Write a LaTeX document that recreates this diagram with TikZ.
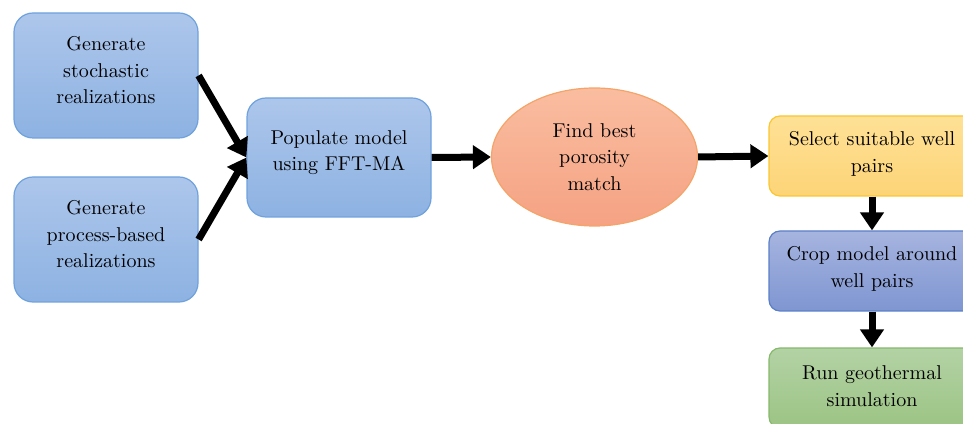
\documentclass[tikz,border=0pt]{standalone}
\usepackage{fontspec}
% text-size cut of Latin Modern: sturdier strokes at large sizes
\newfontfamily\boxfont{lmroman10-regular.otf}
\usetikzlibrary{arrows.meta,shapes.geometric}

% fill and border colours of the process boxes
\definecolor{blueTop}{HTML}{ADC6EB}
\definecolor{blueBot}{HTML}{8DB2E2}
\definecolor{blueLine}{HTML}{6FA2DD}
\definecolor{orangeTop}{HTML}{FABDA0}
\definecolor{orangeBot}{HTML}{F5A283}
\definecolor{orangeLine}{HTML}{F4A468}
\definecolor{yellowTop}{HTML}{FEE196}
\definecolor{yellowBot}{HTML}{FDD477}
\definecolor{yellowLine}{HTML}{FAC631}
\definecolor{slateTop}{HTML}{A6B4DF}
\definecolor{slateBot}{HTML}{7F96D2}
\definecolor{slateLine}{HTML}{5B7FC7}
\definecolor{greenTop}{HTML}{B3D2A5}
\definecolor{greenBot}{HTML}{9CC484}
\definecolor{greenLine}{HTML}{86B96B}

\tikzset{
  box/.style={rectangle, line width=1.2pt, inner sep=0pt},
  bigbox/.style={box, rounded corners=19pt, minimum width=184pt,
    top color=blueTop, bottom color=blueBot, draw=blueLine},
  sidebox/.style={box, rounded corners=11pt, minimum width=206pt, minimum height=80pt},
  boxtext/.style={align=center, font=\boxfont\fontsize{20pt}{26.5pt}\selectfont, inner sep=0pt},
  flow/.style={line width=7pt, -{Triangle[width=23pt,length=18pt]}},
}

\begin{document}
\begin{tikzpicture}[x=1pt,y=1pt]
\useasboundingbox (0,0) rectangle (963,423);
\clip (0,0) rectangle (963,423);

% left column: the two sources of realizations
\node[bigbox, minimum height=125pt] (stoch) at (106,347.5) {};
\node[bigbox, minimum height=125pt] (proc) at (106,183.5) {};
\node[bigbox, minimum height=119pt] (pop) at (339,265.5) {};

% matching step
\node[ellipse, line width=1.2pt, minimum width=206pt, minimum height=138pt,
  top color=orangeTop, bottom color=orangeBot, draw=orangeLine] (match) at (594.5,266) {};

% right column
\node[sidebox, top color=yellowTop, bottom color=yellowBot, draw=yellowLine] (select) at (872,267) {};
\node[sidebox, top color=slateTop, bottom color=slateBot, draw=slateLine] (crop) at (872,152) {};
\node[sidebox, top color=greenTop, bottom color=greenBot, draw=greenLine] (run) at (872,35) {};

% texts
\node[boxtext] (tstoch) at ([yshift=5pt]stoch.center) {Generate\\stochastic\\realizations};
\node[boxtext] (tproc) at ([yshift=5pt]proc.center) {Generate\\process-based\\realizations};
\node[boxtext] (tpop) at ([yshift=5pt]pop.center) {Populate model\\using FFT-MA};
\node[boxtext] (tmatch) at (match.center) {Find best\\porosity\\match};
\node[boxtext] (tselect) at ([yshift=2pt]select.center) {Select suitable well\\pairs};
\node[boxtext] (tcrop) at ([yshift=2pt]crop.center) {Crop model around\\well pairs};
\node[boxtext] (trun) at ([yshift=2pt]run.center) {Run geothermal\\simulation};

% connectors
\draw[flow] (stoch.east) -- (pop.west);
\draw[flow] (proc.east) -- (pop.west);
\draw[flow] (pop.east) -- (match.west);
\draw[flow] (match.east) -- (select.west);
\draw[flow] (select.south) -- (crop.north);
\draw[flow] (crop.south) -- (run.north);
\end{tikzpicture}
\end{document}
